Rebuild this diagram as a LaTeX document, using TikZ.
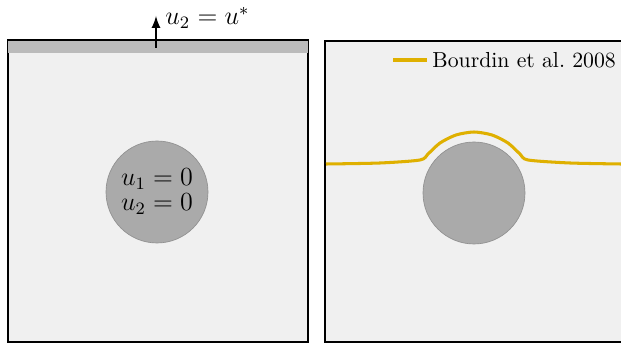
\documentclass[tikz,border=0pt]{standalone}
\usepackage{tikz}
\usepackage{amssymb}
\definecolor{matrixfill}{HTML}{F0F0F0}
\definecolor{loadstrip}{HTML}{BBBBBB}
\definecolor{holefill}{HTML}{AAAAAA}
\definecolor{crackline}{HTML}{DFB000}

\tikzset{
  panel/.style={draw=black,line width=0.9pt,fill=matrixfill},
  hole/.style={circle,fill=holefill,draw=holefill!85!black,line width=0.3pt,minimum size=102*0.46pt,inner sep=0pt,align=center},
  crack/.style={draw=crackline,line width=1.4pt,line join=round}
}

\begin{document}
\begin{tikzpicture}[x=0.46pt,y=0.46pt]
\useasboundingbox (0,0) rectangle (621,344);
\clip (0,0) rectangle (621,344);
% left: setup
\draw[panel] (8,2) rectangle (308,304);
\fill[loadstrip] (8.5,291) rectangle (307.5,303.5);
\draw[line width=0.9pt] (8,304) -- (308,304);
\node[hole,font=\large] (inclA) at (157,152) {$u_1 = 0$\\[-2.5pt]$u_2 = 0$};
\coordinate (pull) at (156,296);
\coordinate (pulltip) at (156,328);
\draw[-latex,line width=0.9pt] (pull) -- (pulltip);
\node[anchor=west,inner sep=0pt,font=\large] (bc) at (165,326) {$u_2 = u^*$};
% right: crack path
\draw[panel] (325,2) rectangle (650,303);
\node[hole] (inclB) at (474,151) {};
\draw[crack] plot[smooth,tension=0.45] coordinates {(326,180) (380,181) (420,184) (428,190) (440,201) (456,209) (474,212) (492,209) (508,201) (520,190) (528,184) (570,181) (621,180)};
\node[anchor=west,inner sep=0pt] (leg) at (432,284) {Bourdin et al.\ 2008};
\coordinate (legstart) at (393,284);
\draw[crack] (legstart) -- ([xshift=-5*0.46pt]leg.west);
\end{tikzpicture}
\end{document}
